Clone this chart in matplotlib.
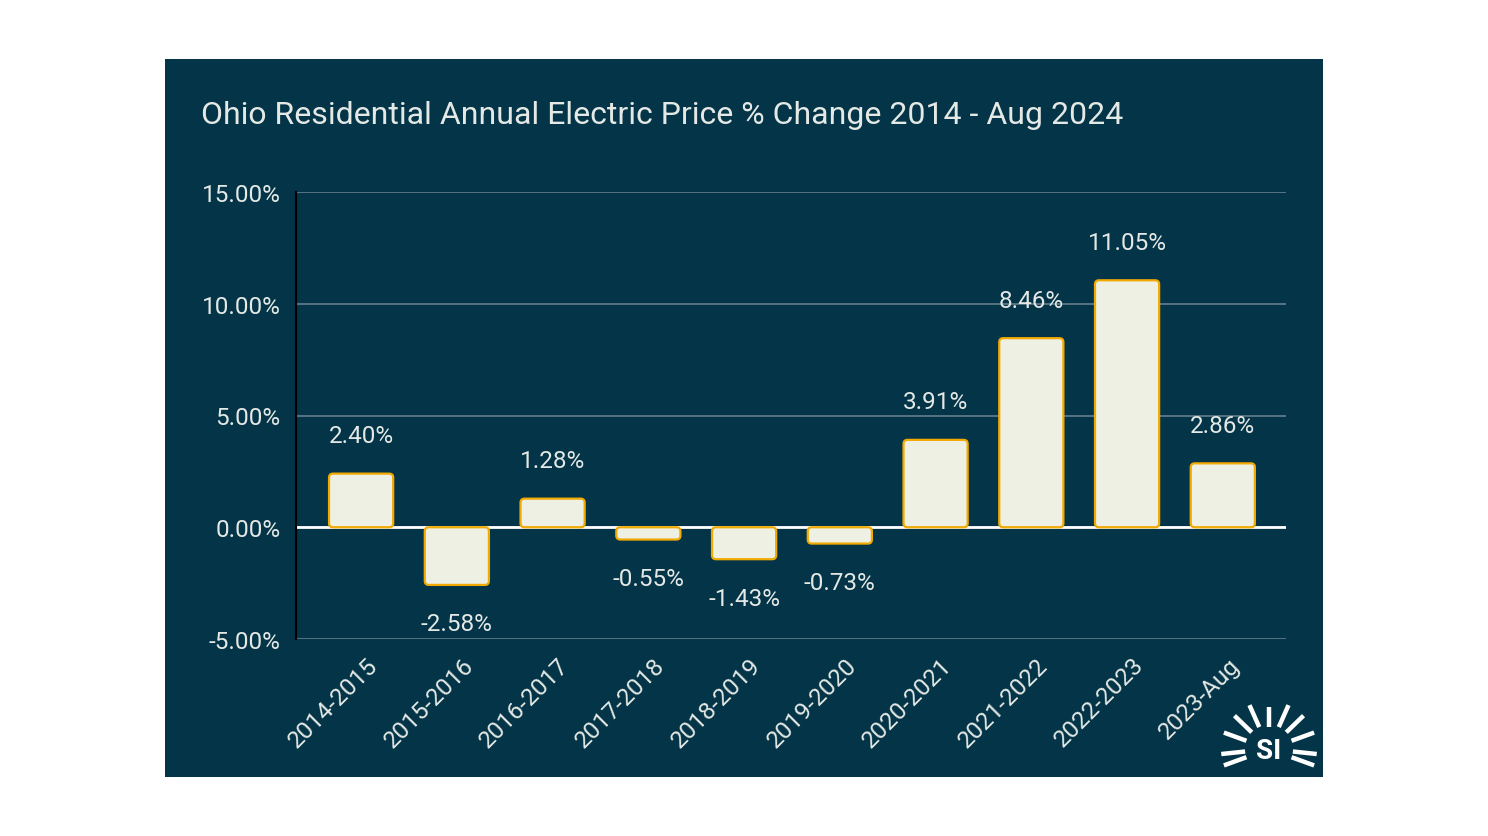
import numpy as np
import matplotlib.pyplot as plt
from matplotlib.patches import Rectangle, FancyBboxPatch
from matplotlib.transforms import ScaledTranslation

periods = ['2014-2015', '2015-2016', '2016-2017', '2017-2018', '2018-2019',
           '2019-2020', '2020-2021', '2021-2022', '2022-2023', '2023-Aug']
pct_change = [2.40, -2.58, 1.28, -0.55, -1.43, -0.73, 3.91, 8.46, 11.05, 2.86]
y_ticks = [-5, 0, 5, 10, 15]

BG = '#033447'
BAR = '#eef0e3'
EDGE = '#f2a900'
TXT = '#e4e9e6'
GRID = '#557482'
FS = 17.5

plt.rcParams['font.family'] = ['Roboto', 'DejaVu Sans']

W, H = 1488, 837
fig = plt.figure(figsize=(W / 100, H / 100), dpi=100)
fig.patch.set_facecolor('white')

# dark card behind the chart
fig.patches.append(Rectangle((165 / W, 1 - 778 / H), 1158 / W, 718 / H,
                             transform=fig.transFigure, facecolor=BG,
                             edgecolor='none', zorder=-5))

ax = fig.add_axes([296 / W, 1 - 640 / H, 990 / W, 447 / H])
ax.set_facecolor('none')
ax.set_zorder(2)

x = np.arange(len(periods))
bars = ax.bar(x, pct_change, width=0.67, color=BAR)
ax.set_xlim(-0.68, 9.66)
ax.set_ylim(-5, 15)

# swap plain bars for slightly rounded ones
px_x = 990 / (9.66 + 0.68)
px_y = 447 / 20
for b in bars:
    b.set_visible(False)
    y0 = min(b.get_y(), b.get_y() + b.get_height())
    p = FancyBboxPatch((b.get_x(), y0), b.get_width(), abs(b.get_height()),
                       boxstyle='round,pad=0,rounding_size=%f' % (4 / px_x),
                       mutation_aspect=px_x / px_y,
                       facecolor=BAR, edgecolor=EDGE, linewidth=1.6, zorder=3)
    ax.add_patch(p)

# value labels
for xi, v in zip(x, pct_change):
    off = 38 if v >= 0 else -39
    ax.annotate('%.2f%%' % v, (xi, v), xytext=(0, off), textcoords='offset pixels',
                ha='center', va='center', color=TXT, fontsize=FS)

ax.set_yticks(y_ticks)
ax.set_yticklabels(['%.2f%%' % t for t in y_ticks], color=TXT, fontsize=FS)
ax.tick_params(axis='y', length=0, pad=11)
ax.grid(axis='y', color=GRID, linewidth=1.4, zorder=1)
ax.axhline(0, color='white', linewidth=2, zorder=2)

ax.set_xticks(x)
ax.set_xticklabels(periods, rotation=45, ha='right', va='center',
                   rotation_mode='anchor', color=TXT, fontsize=FS)
ax.tick_params(axis='x', length=0, pad=0)
for lab in ax.get_xticklabels():
    lab.set_transform(lab.get_transform() + ScaledTranslation(0.13, -0.22, fig.dpi_scale_trans))

for s in ['top', 'right', 'bottom']:
    ax.spines[s].set_visible(False)
ax.spines['left'].set_color('black')
ax.spines['left'].set_linewidth(1.5)
ax.spines['left'].set_zorder(4)

fig.text(201 / W, 1 - 115 / H, 'Ohio Residential Annual Electric Price % Change 2014 - Aug 2024',
         color=TXT, fontsize=23, va='center', ha='left')

# small "SI" sun logo, bottom right
cx, cy = 1269 / W, 1 - 750 / H
for ang in [-20, -6, 20, 44, 66, 90, 114, 136, 160, 186, 200]:
    a = np.radians(ang)
    r0, r1 = 24, 48
    if ang == 90:
        r0, r1 = 22, 42
    fig.add_artist(plt.Line2D([cx + r0 * np.cos(a) / W, cx + r1 * np.cos(a) / W],
                              [cy + r0 * np.sin(a) / H, cy + r1 * np.sin(a) / H],
                              transform=fig.transFigure, color='white',
                              linewidth=3.2, solid_capstyle='butt'))
fig.text(cx, cy - 2 / H, 'SI', color='white', fontsize=20, fontweight='bold',
         ha='center', va='center')

fig.savefig('out.png', dpi=100, facecolor='white')
